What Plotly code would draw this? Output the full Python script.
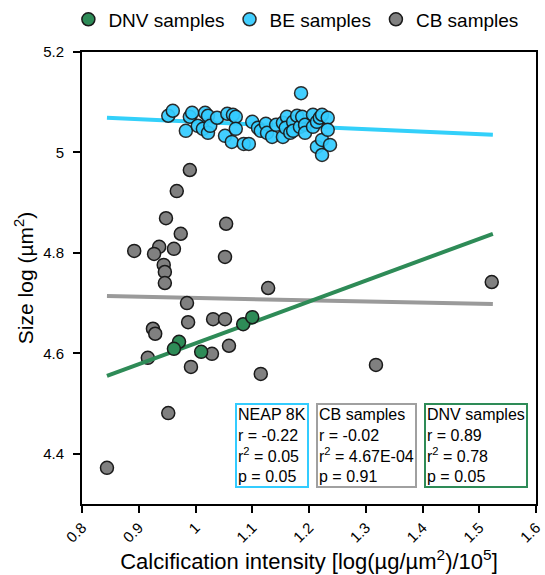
import plotly.graph_objects as go

# ---------------- data ----------------
cb_x = [0.990, 0.967, 0.948, 0.974, 1.054, 0.892, 0.936, 0.927, 0.962, 1.052,
        0.944, 0.946, 0.946, 0.985, 0.925, 0.929, 0.987, 1.031, 1.052, 1.059,
        1.029, 0.916, 0.992, 1.115, 0.952, 0.844, 1.128, 1.522, 1.318]
cb_y = [4.965, 4.923, 4.869, 4.838, 4.858, 4.804, 4.812, 4.798, 4.808, 4.792,
        4.776, 4.762, 4.740, 4.700, 4.649, 4.639, 4.662, 4.668, 4.668, 4.615,
        4.599, 4.591, 4.573, 4.559, 4.481, 4.372, 4.730, 4.742, 4.577]

be_x = [0.952, 0.960, 0.983, 0.990, 0.994, 1.004, 1.013, 1.017, 1.022, 1.022,
        1.026, 1.038, 1.052, 1.056, 1.064, 1.066, 1.071, 1.071, 1.085, 1.094,
        1.100, 1.110, 1.115, 1.124, 1.126, 1.135, 1.142, 1.154, 1.154, 1.161,
        1.159, 1.167, 1.172, 1.172, 1.179, 1.184, 1.188, 1.186, 1.193, 1.193,
        1.207, 1.207, 1.214, 1.214, 1.219, 1.223, 1.223, 1.223, 1.233, 1.233,
        1.237]
be_y = [5.073, 5.083, 5.043, 5.071, 5.079, 5.053, 5.047, 5.079, 5.073, 5.039,
        5.053, 5.069, 5.033, 5.077, 5.021, 5.075, 5.071, 5.047, 5.017, 5.017,
        5.061, 5.049, 5.043, 5.057, 5.039, 5.031, 5.055, 5.059, 5.031, 5.071,
        5.049, 5.039, 5.061, 5.043, 5.073, 5.051, 5.071, 5.118, 5.055, 5.039,
        5.075, 5.051, 5.061, 5.011, 5.069, 5.075, 5.025, 4.995, 5.069, 5.045,
        5.015]

dnv_x = [0.971, 0.962, 1.010, 1.084, 1.100]
dnv_y = [4.623, 4.609, 4.603, 4.658, 4.672]

# regression line end points
fit_x = [0.844, 1.524]
fit_cb_y = [4.714, 4.698]
fit_be_y = [5.069, 5.035]
fit_dnv_y = [4.555, 4.838]

stats_titles = ["NEAP 8K", "CB samples", "DNV samples"]
stats_r = ["-0.22", "-0.02", "0.89"]
stats_r2 = ["0.05", "4.67E-04", "0.78"]
stats_p = ["0.05", "0.91", "0.05"]

x_ticks = [0.8, 0.9, 1.0, 1.1, 1.2, 1.3, 1.4, 1.5, 1.6]
y_ticks = [4.4, 4.6, 4.8, 5.0, 5.2]

# ---------------- style ----------------
GREEN = "#2e8b57"
CYAN = "#33ccff"
GREY = "#808080"
FONT = "Arial, Liberation Sans, sans-serif"

fig = go.Figure()

# fit lines
fig.add_trace(go.Scatter(x=fit_x, y=fit_cb_y, mode="lines",
                         line=dict(color="#9a9a9a", width=4), showlegend=False, hoverinfo="skip"))
fig.add_trace(go.Scatter(x=fit_x, y=fit_be_y, mode="lines",
                         line=dict(color="#33d0fa", width=4), showlegend=False, hoverinfo="skip"))

mk_line = dict(color="#1a1a1a", width=1.5)
fig.add_trace(go.Scatter(x=cb_x, y=cb_y, mode="markers", name="CB samples", legendrank=3,
                         marker=dict(size=13, color=GREY, line=mk_line)))
fig.add_trace(go.Scatter(x=be_x, y=be_y, mode="markers", name="BE samples", legendrank=2,
                         marker=dict(size=13, color=CYAN, opacity=0.92, line=mk_line)))
fig.add_trace(go.Scatter(x=fit_x, y=fit_dnv_y, mode="lines",
                         line=dict(color=GREEN, width=4), showlegend=False, hoverinfo="skip"))
fig.add_trace(go.Scatter(x=dnv_x, y=dnv_y, mode="markers", name="DNV samples", legendrank=1,
                         marker=dict(size=13, color=GREEN, line=mk_line)))

# statistics boxes
box_colors = [CYAN, "#a0a0a0", GREEN]
box_left = [0.337, 0.515, 0.753]
for i in range(3):
    txt = (f"{stats_titles[i]}<br>r = {stats_r[i]}<br>"
           f"r<sup>2</sup> = {stats_r2[i]}<br>p = {stats_p[i]}")
    fig.add_annotation(xref="paper", yref="paper", x=box_left[i], y=0.035,
                       xanchor="left", yanchor="bottom", text=txt, align="left",
                       showarrow=False, font=dict(size=16, color="black", family=FONT),
                       bordercolor=box_colors[i], borderwidth=2, borderpad=1,
                       bgcolor="white")

axis_common = dict(showline=True, linecolor="black", linewidth=2, mirror=True,
                   ticks="outside", ticklen=7, tickwidth=2, tickcolor="black",
                   showgrid=False, zeroline=False,
                   tickfont=dict(size=15, color="black", family=FONT))

fig.update_layout(
    width=545, height=575,
    margin=dict(l=82, r=9, t=52, b=71, autoexpand=False),
    paper_bgcolor="white", plot_bgcolor="white",
    font=dict(family=FONT, color="black"),
    legend=dict(orientation="h", x=-0.03, xanchor="left", y=1.03, yanchor="bottom",
                font=dict(size=19, family=FONT, color="black"),
                itemwidth=30, tracegroupgap=0),
    xaxis=dict(range=[0.8, 1.6], tickvals=x_ticks, tickangle=-45,
               title=dict(text="Calcification intensity [log(µg/µm<sup>2</sup>)/10<sup>5</sup>]",
                          font=dict(size=22, family=FONT, color="black"), standoff=2),
               **axis_common),
    yaxis=dict(range=[4.3, 5.2], tickvals=y_ticks, ticklabelstandoff=6,
               title=dict(text="Size log (µm<sup>2</sup>)",
                          font=dict(size=21, family=FONT, color="black"), standoff=4),
               **axis_common),
)

fig.write_html("out.html")
